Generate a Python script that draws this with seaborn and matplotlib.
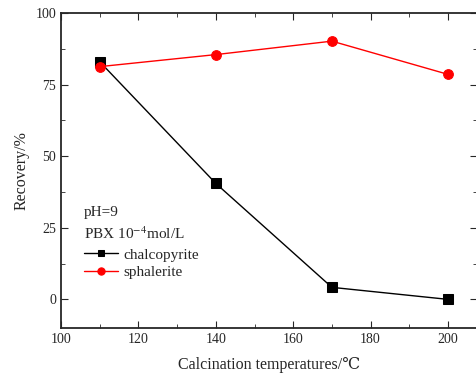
import matplotlib
matplotlib.use("Agg")
import matplotlib.pyplot as plt
from matplotlib.ticker import MultipleLocator
import seaborn as sns
import pandas as pd

temps = [110, 140, 170, 200]
chalcopyrite = [83.0, 40.5, 4.2, 0.0]
sphalerite = [81.3, 85.5, 90.2, 78.6]

sns.set_style("ticks")
plt.rcParams['font.family'] = ['Liberation Serif', 'DejaVu Serif']
plt.rcParams['mathtext.fontset'] = 'stix'

df = pd.DataFrame({'T': temps, 'chalcopyrite': chalcopyrite, 'sphalerite': sphalerite})

fig = plt.figure(figsize=(4.77, 3.74), dpi=100)
ax = fig.add_axes([0.128, 0.123, 0.872, 0.842])

sns.lineplot(data=df, x='T', y='chalcopyrite', color='black', marker='s', markersize=6.5,
             markeredgecolor='black', linewidth=1, label='chalcopyrite', ax=ax)
sns.lineplot(data=df, x='T', y='sphalerite', color='red', marker='o', markersize=7,
             markeredgecolor='red', linewidth=1, label='sphalerite', ax=ax)

ax.set_xlim(100, 207.5)
ax.set_ylim(-10, 100)
ax.xaxis.set_major_locator(MultipleLocator(20))
ax.xaxis.set_minor_locator(MultipleLocator(10))
ax.yaxis.set_major_locator(MultipleLocator(25))
ax.yaxis.set_minor_locator(MultipleLocator(12.5))
ax.tick_params(which='both', direction='in', top=True, right=True, labelsize=10)
ax.tick_params(which='major', length=5)
ax.tick_params(which='minor', length=3)
for s in ax.spines.values():
    s.set_linewidth(1.3)

ax.set_xlabel('Calcination temperatures/℃', fontsize=11.5, labelpad=8)
ax.set_ylabel('Recovery/%', fontsize=11.5)

ax.text(0.055, 0.368, 'pH=9', transform=ax.transAxes, fontsize=11, va='center')
ax.text(0.055, 0.298, 'PBX 10$^{-4}$mol/L', transform=ax.transAxes, fontsize=11, va='center')
ax.legend(loc='center left', bbox_to_anchor=(0.055, 0.205), frameon=False, fontsize=11,
          handlelength=2.2, handletextpad=0.35, labelspacing=0.25, borderpad=0,
          borderaxespad=0, markerscale=0.75)

fig.savefig('out.png', dpi=100)
